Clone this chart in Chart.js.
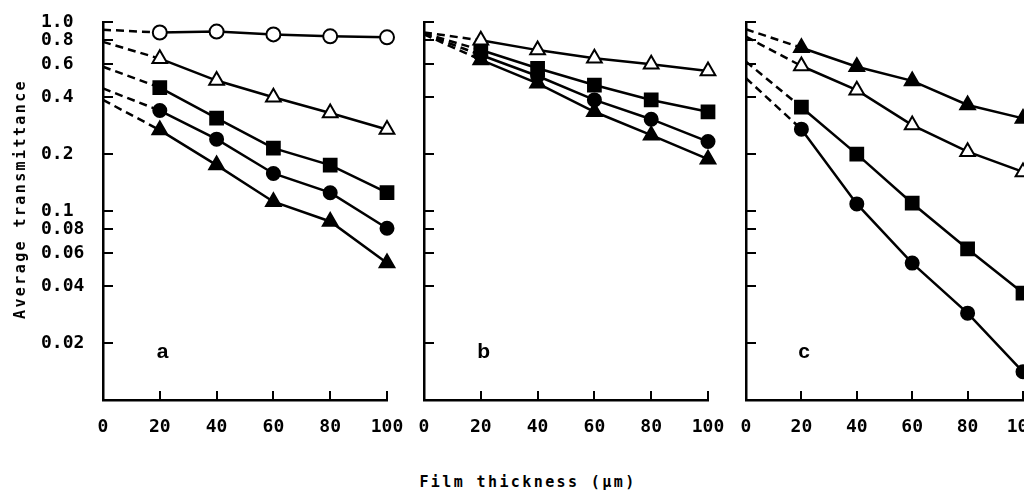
<!DOCTYPE html>
<html>
<head>
<meta charset="utf-8">
<script src="https://cdn.jsdelivr.net/npm/chart.js@4.4.0/dist/chart.umd.min.js"></script>
<style>
  html, body { margin: 0; padding: 0; background: #fff; overflow: hidden; }
  #wrap { position: relative; width: 1024px; height: 491px; overflow: hidden; }
  canvas { position: absolute; top: 0; }
  .title { position: absolute; font-family: "DejaVu Sans Mono", monospace; font-weight: bold;
           font-size: 15px; letter-spacing: 2.4px; color: #000; white-space: nowrap; }
  #ytitle { left: 20px; top: 199px; transform: translate(-50%, -50%) rotate(-90deg); }
  #xtitle { left: 528px; top: 482px; transform: translate(-50%, -50%); }
</style>
</head>
<body>
<div id="wrap">
  <canvas id="panelA" width="421" height="445" style="left:0px"></canvas>
  <canvas id="panelB" width="341" height="445" style="left:401px"></canvas>
  <canvas id="panelC" width="357" height="445" style="left:700px"></canvas>
  <div class="title" id="ytitle">Average transmittance</div>
  <div class="title" id="xtitle">Film thickness (µm)</div>
</div>
<script>
// film thickness (um) of the measured points
var thickness = [20, 40, 60, 80, 100];

// y axis ticks
var yTickValues = [1.0, 0.8, 0.6, 0.4, 0.2, 0.1, 0.08, 0.06, 0.04, 0.02];
var yTickLabels = ['1.0', '0.8', '0.6', '0.4', '0.2', '0.1', '0.08', '0.06', '0.04', '0.02'];
var xTickMarks = [20, 40, 60, 80, 100];

// panel a : measured values, and the extrapolated value at 0 um
var aOpenCircle = [0.88, 0.89, 0.86, 0.84, 0.83];
var aOpenTriangle = [0.64, 0.49, 0.40, 0.33, 0.27];
var aSquare = [0.45, 0.31, 0.215, 0.175, 0.125];
var aCircle = [0.34, 0.24, 0.158, 0.125, 0.081];
var aTriangle = [0.268, 0.175, 0.112, 0.088, 0.053];
var aStart = { openCircle: 0.91, openTriangle: 0.785, square: 0.58, circle: 0.445, triangle: 0.387 };

// panel b
var bOpenTriangle = [0.80, 0.71, 0.643, 0.597, 0.55];
var bSquare = [0.711, 0.569, 0.464, 0.387, 0.335];
var bCircle = [0.669, 0.518, 0.387, 0.306, 0.233];
var bTriangle = [0.63, 0.474, 0.335, 0.252, 0.188];
var bStart = { openTriangle: 0.88, square: 0.87, circle: 0.865, triangle: 0.86 };

// panel c
var cTriangle = [0.731, 0.58, 0.488, 0.364, 0.309];
var cOpenTriangle = [0.585, 0.436, 0.285, 0.206, 0.161];
var cSquare = [0.354, 0.20, 0.11, 0.063, 0.0368];
var cCircle = [0.271, 0.109, 0.053, 0.0288, 0.0141];
var cStart = { triangle: 0.915, openTriangle: 0.836, square: 0.617, circle: 0.504 };

// marker looks
var markers = {
  openCircle: { pointStyle: 'circle', pointRadius: 7, pointBackgroundColor: '#fff' },
  openTriangle: { pointStyle: 'triangle', pointRadius: 8.5, pointBackgroundColor: '#fff' },
  square: { pointStyle: 'rect', pointRadius: 9, pointBackgroundColor: '#000' },
  circle: { pointStyle: 'circle', pointRadius: 6.5, pointBackgroundColor: '#000' },
  triangle: { pointStyle: 'triangle', pointRadius: 8.5, pointBackgroundColor: '#000' }
};

function series(values, start, kind) {
  var solid = Object.assign({
    data: values.map(function(v, i) { return { x: thickness[i], y: v }; }),
    borderColor: '#000',
    borderWidth: 2.5,
    pointBorderColor: '#000',
    pointBorderWidth: 2,
    clip: false
  }, markers[kind]);
  var dashed = {
    data: [{ x: 0, y: start }, { x: thickness[0], y: values[0] }],
    borderColor: '#000',
    borderWidth: 2.5,
    borderDash: [8, 5],
    pointRadius: 0,
    clip: false
  };
  return [solid, dashed];
}

// draws the inward tick marks and the panel letter
var panelMarks = {
  id: 'panelMarks',
  afterDraw: function(chart) {
    var ctx = chart.ctx;
    var area = chart.chartArea;
    var x = chart.scales.x, y = chart.scales.y;
    var opt = chart.options.plugins.panelMarks;
    ctx.save();
    ctx.strokeStyle = '#000';
    ctx.lineWidth = 2;
    ctx.beginPath();
    yTickValues.forEach(function(v) {
      var py = Math.round(y.getPixelForValue(v));
      ctx.moveTo(area.left, py);
      ctx.lineTo(area.left + 10, py);
    });
    xTickMarks.forEach(function(v) {
      var px = Math.round(x.getPixelForValue(v));
      ctx.moveTo(px, area.bottom);
      ctx.lineTo(px, area.bottom - 9);
    });
    ctx.stroke();
    ctx.fillStyle = '#000';
    ctx.font = 'bold 21px "Liberation Sans"';
    ctx.textAlign = 'center';
    ctx.textBaseline = 'alphabetic';
    ctx.fillText(opt.letter, x.getPixelForValue(opt.at[0]), y.getPixelForValue(opt.at[1]));
    ctx.restore();
  }
};

var tickFont = { family: '"DejaVu Sans Mono"', size: 18, weight: 'bold' };

function makePanel(id, datasets, letter, pad, showY) {
  return new Chart(document.getElementById(id), {
    type: 'line',
    data: { datasets: datasets },
    plugins: [panelMarks],
    options: {
      responsive: false,
      animation: false,
      devicePixelRatio: 1,
      layout: { padding: pad },
      plugins: {
        legend: { display: false },
        tooltip: { enabled: false },
        panelMarks: { letter: letter, at: [21, 0.0167] }
      },
      scales: {
        x: {
          type: 'linear', min: 0, max: 100,
          ticks: { stepSize: 20, color: '#000', font: tickFont, padding: 17, maxRotation: 0 },
          grid: { drawOnChartArea: false, drawTicks: false, color: '#000', lineWidth: 2 },
          border: { color: '#000', width: 2.5 },
          afterFit: function(s) { s.height = 45; }
        },
        y: {
          type: 'logarithmic', min: 0.01, max: 1.0,
          afterBuildTicks: function(s) {
            s.ticks = yTickValues.map(function(v) { return { value: v }; });
          },
          ticks: {
            display: showY,
            color: '#000',
            font: tickFont,
            crossAlign: 'far',
            callback: function(v, i) { return yTickLabels[i]; }
          },
          grid: { drawOnChartArea: false, drawTicks: false, color: '#000', lineWidth: 2 },
          border: { color: '#000', width: 2.5 },
          afterFit: function(s) { s.width = showY ? 62 : 0; }
        }
      }
    }
  });
}

makePanel('panelA', [].concat(
  series(aOpenCircle, aStart.openCircle, 'openCircle'),
  series(aOpenTriangle, aStart.openTriangle, 'openTriangle'),
  series(aSquare, aStart.square, 'square'),
  series(aCircle, aStart.circle, 'circle'),
  series(aTriangle, aStart.triangle, 'triangle')
), 'a', { left: 41, right: 34, top: 22, bottom: 0 }, true);

makePanel('panelB', [].concat(
  series(bOpenTriangle, bStart.openTriangle, 'openTriangle'),
  series(bSquare, bStart.square, 'square'),
  series(bCircle, bStart.circle, 'circle'),
  series(bTriangle, bStart.triangle, 'triangle')
), 'b', { left: 23, right: 34, top: 22, bottom: 0 }, false);

makePanel('panelC', [].concat(
  series(cTriangle, cStart.triangle, 'triangle'),
  series(cOpenTriangle, cStart.openTriangle, 'openTriangle'),
  series(cSquare, cStart.square, 'square'),
  series(cCircle, cStart.circle, 'circle')
), 'c', { left: 46, right: 34, top: 22, bottom: 0 }, false);
</script>
</body>
</html>
